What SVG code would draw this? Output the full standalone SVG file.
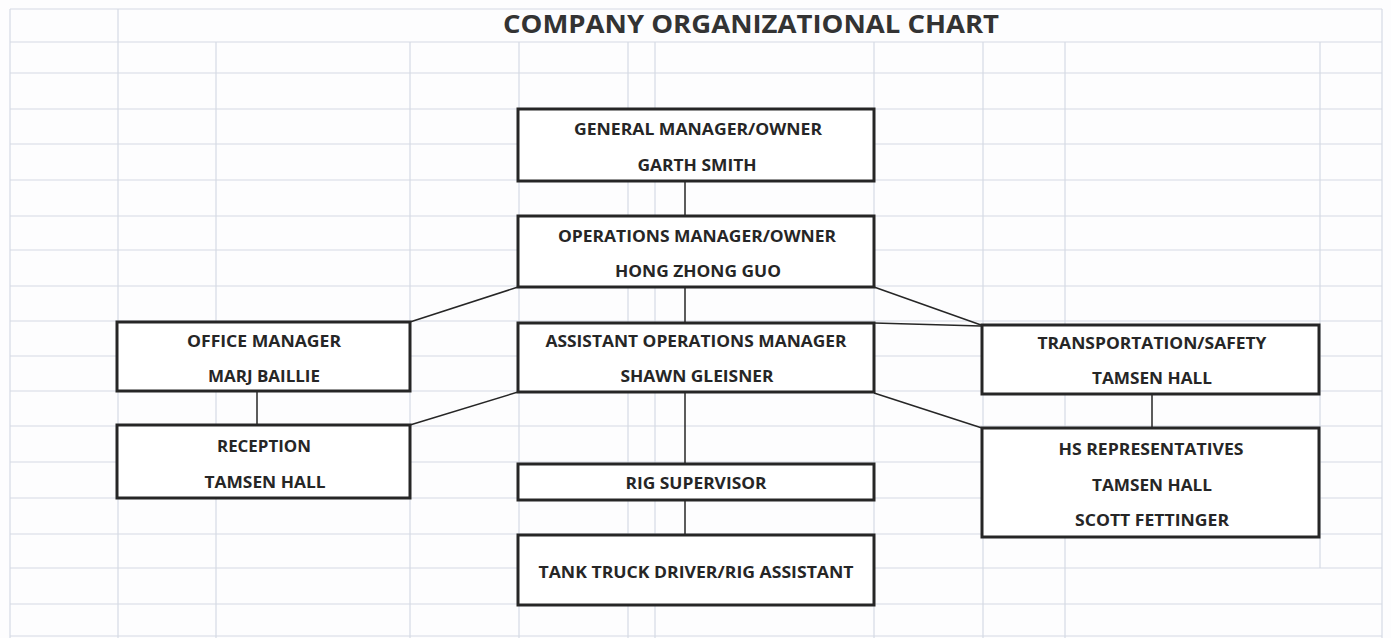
<svg xmlns="http://www.w3.org/2000/svg" width="1391" height="638" viewBox="0 0 1391 638">
<defs>
<style>
.grid line{stroke:#d6dae4;stroke-width:1.2}
.box{fill:#ffffff;stroke:#262626;stroke-width:3}
.t{font-family:"Open Sans","Liberation Sans",Arial,sans-serif;font-weight:bold;font-size:16.5px;fill:#262626;text-anchor:middle}
.title{font-family:"Open Sans","Liberation Sans",Arial,sans-serif;font-weight:bold;font-size:25px;fill:#333333;text-anchor:middle}
.conn line{stroke:#262626;stroke-width:1.5}
</style>
</defs>
<rect x="0" y="0" width="1391" height="638" fill="#fdfdfe"/>
<g class="grid">
<line x1="10" y1="9" x2="1382" y2="9"/>
<line x1="10" y1="42" x2="1382" y2="42"/>
<line x1="10" y1="73" x2="1382" y2="73"/>
<line x1="10" y1="109" x2="1382" y2="109"/>
<line x1="10" y1="144" x2="1382" y2="144"/>
<line x1="10" y1="180" x2="1382" y2="180"/>
<line x1="10" y1="216" x2="1382" y2="216"/>
<line x1="10" y1="250" x2="1382" y2="250"/>
<line x1="10" y1="286" x2="1382" y2="286"/>
<line x1="10" y1="321" x2="1382" y2="321"/>
<line x1="10" y1="356" x2="1382" y2="356"/>
<line x1="10" y1="391" x2="1382" y2="391"/>
<line x1="10" y1="426" x2="1382" y2="426"/>
<line x1="10" y1="462" x2="1382" y2="462"/>
<line x1="10" y1="498" x2="1382" y2="498"/>
<line x1="10" y1="534" x2="1382" y2="534"/>
<line x1="10" y1="568" x2="1382" y2="568"/>
<line x1="10" y1="604" x2="1382" y2="604"/>
<line x1="10" y1="636" x2="1382" y2="636"/>
<line x1="10" y1="9" x2="10" y2="638"/>
<line x1="118" y1="9" x2="118" y2="638"/>
<line x1="216" y1="42" x2="216" y2="638"/>
<line x1="410" y1="42" x2="410" y2="638"/>
<line x1="519" y1="42" x2="519" y2="638"/>
<line x1="628" y1="42" x2="628" y2="638"/>
<line x1="655" y1="42" x2="655" y2="638"/>
<line x1="874" y1="42" x2="874" y2="638"/>
<line x1="983" y1="42" x2="983" y2="638"/>
<line x1="1065" y1="42" x2="1065" y2="638"/>
<line x1="1320" y1="42" x2="1320" y2="568"/>
<line x1="1382" y1="9" x2="1382" y2="638"/>
</g>
<text class="title" x="751" y="33" textLength="496" lengthAdjust="spacingAndGlyphs">COMPANY ORGANIZATIONAL CHART</text>
<g id="connectors" class="conn">
<line x1="685" y1="181" x2="685" y2="216"/>
<line x1="685" y1="287" x2="685" y2="323"/>
<line x1="685" y1="392" x2="685" y2="464"/>
<line x1="685" y1="500" x2="685" y2="535"/>
<line x1="518" y1="287" x2="410" y2="322"/>
<line x1="518" y1="392" x2="410" y2="425"/>
<line x1="874" y1="287" x2="981" y2="325"/>
<line x1="874" y1="323" x2="981" y2="326"/>
<line x1="874" y1="393" x2="982" y2="428"/>
<line x1="257" y1="391" x2="257" y2="425"/>
<line x1="1152" y1="394" x2="1152" y2="428"/>
</g>
<g id="general-manager">
<rect class="box" x="518" y="109" width="356" height="72"/>
<text class="t" x="698" y="135" textLength="248" lengthAdjust="spacingAndGlyphs">GENERAL MANAGER/OWNER</text>
<text class="t" x="697" y="171" textLength="119" lengthAdjust="spacingAndGlyphs">GARTH SMITH</text>
</g>
<g id="operations-manager">
<rect class="box" x="518" y="216" width="356" height="71"/>
<text class="t" x="697" y="242" textLength="278" lengthAdjust="spacingAndGlyphs">OPERATIONS MANAGER/OWNER</text>
<text class="t" x="698" y="277" textLength="166" lengthAdjust="spacingAndGlyphs">HONG ZHONG GUO</text>
</g>
<g id="office-manager">
<rect class="box" x="117" y="322" width="293" height="69"/>
<text class="t" x="264" y="347" textLength="154" lengthAdjust="spacingAndGlyphs">OFFICE MANAGER</text>
<text class="t" x="264" y="382" textLength="112" lengthAdjust="spacingAndGlyphs">MARJ BAILLIE</text>
</g>
<g id="reception">
<rect class="box" x="117" y="425" width="293" height="73"/>
<text class="t" x="264" y="452" textLength="94" lengthAdjust="spacingAndGlyphs">RECEPTION</text>
<text class="t" x="265" y="488" textLength="121" lengthAdjust="spacingAndGlyphs">TAMSEN HALL</text>
</g>
<g id="assistant-operations-manager">
<rect class="box" x="518" y="323" width="356" height="69"/>
<text class="t" x="696" y="347" textLength="301" lengthAdjust="spacingAndGlyphs">ASSISTANT OPERATIONS MANAGER</text>
<text class="t" x="697" y="382" textLength="153" lengthAdjust="spacingAndGlyphs">SHAWN GLEISNER</text>
</g>
<g id="rig-supervisor">
<rect class="box" x="518" y="464" width="356" height="36"/>
<text class="t" x="696" y="489" textLength="141" lengthAdjust="spacingAndGlyphs">RIG SUPERVISOR</text>
</g>
<g id="tank-truck-driver">
<rect class="box" x="518" y="535" width="356" height="70"/>
<text class="t" x="696" y="578" textLength="315" lengthAdjust="spacingAndGlyphs">TANK TRUCK DRIVER/RIG ASSISTANT</text>
</g>
<g id="transportation-safety">
<rect class="box" x="982" y="325" width="337" height="69"/>
<text class="t" x="1152" y="349" textLength="229" lengthAdjust="spacingAndGlyphs">TRANSPORTATION/SAFETY</text>
<text class="t" x="1152" y="384" textLength="120" lengthAdjust="spacingAndGlyphs">TAMSEN HALL</text>
</g>
<g id="hs-representatives">
<rect class="box" x="982" y="428" width="337" height="109"/>
<text class="t" x="1151" y="455" textLength="185" lengthAdjust="spacingAndGlyphs">HS REPRESENTATIVES</text>
<text class="t" x="1152" y="491" textLength="120" lengthAdjust="spacingAndGlyphs">TAMSEN HALL</text>
<text class="t" x="1152" y="526" textLength="154" lengthAdjust="spacingAndGlyphs">SCOTT FETTINGER</text>
</g>
</svg>
